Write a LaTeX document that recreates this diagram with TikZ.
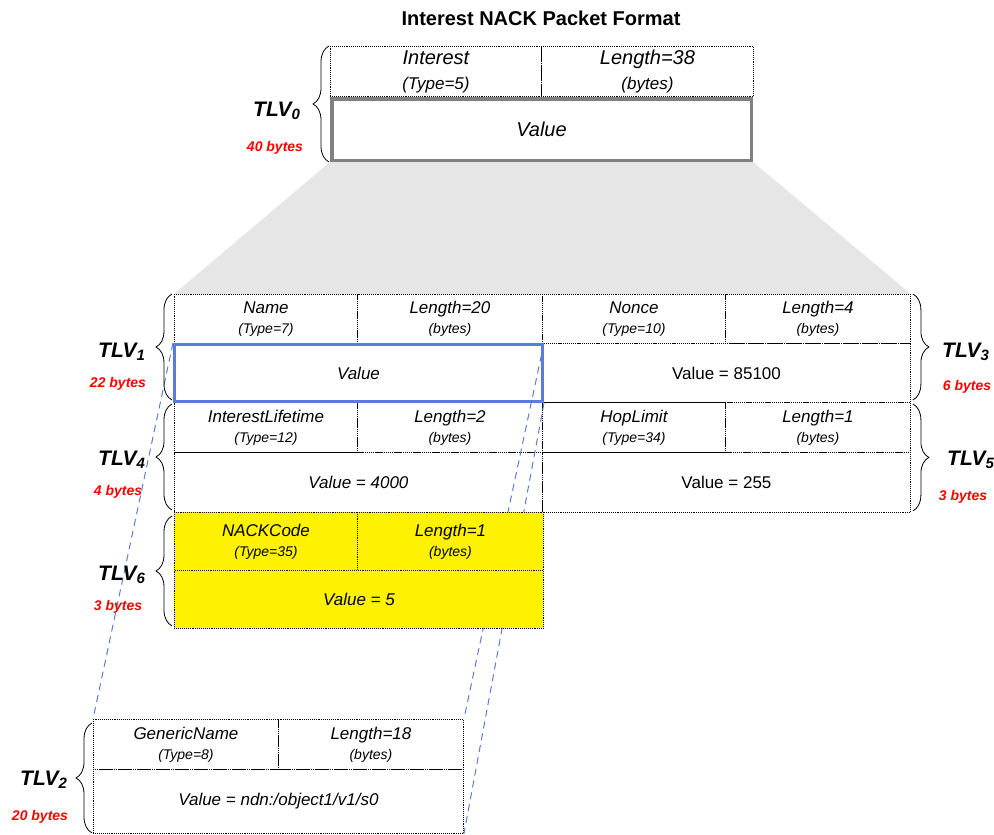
\documentclass[tikz,border=0pt]{standalone}
\usepackage{fontspec}
\setmainfont{Liberation Sans}
\usepackage{xcolor}
\usepackage{tikz}
\usetikzlibrary{positioning, backgrounds, decorations.pathreplacing}

\definecolor{valblue}{RGB}{90,125,218}
\definecolor{zoomgray}{RGB}{230,230,230}
\definecolor{valgray}{RGB}{128,128,128}

\newcommand{\subline}[1]{{\fontsize{14}{16}\selectfont #1}}
\newcommand{\bigsubline}[1]{{\fontsize{17}{19}\selectfont #1}}
\newcommand{\tlvname}[1]{TLV\raisebox{-3.5pt}{\fontsize{15}{16}\selectfont #1}}

\begin{document}
\begin{tikzpicture}[
  x=1pt, y=-1pt,
  cell/.style={draw, densely dotted, line width=0.9pt, anchor=north west,
               inner sep=0pt, align=center, font=\itshape\fontsize{17}{20}\selectfont},
  bigcell/.style={cell, font=\itshape\fontsize{20}{25}\selectfont},
  plaincell/.style={cell, font=\fontsize{17}{20}\selectfont},
  nackcell/.style={cell, fill=yellow},
  tlv/.style={font=\bfseries\itshape\fontsize{21}{24}\selectfont, inner sep=0pt, anchor=base west},
  bytes/.style={font=\bfseries\itshape\fontsize{14}{16}\selectfont, text=red, inner sep=0pt},
  tlvbrace/.style={decorate, decoration={brace, amplitude=16pt}, line width=0.8pt},
  zoomline/.style={valblue, line width=1pt, dash pattern=on 7pt off 5pt}
]
\useasboundingbox (0,0) rectangle (994,835);

\node[font=\bfseries\fontsize{20}{24}\selectfont] (title) at (541,18) {Interest NACK Packet Format};

% TLV0: Interest
\node[bigcell, minimum width=211pt, minimum height=50pt] (interest) at (330,46) {Interest\\\bigsubline{(Type=5)}};
\node[bigcell, minimum width=212pt, minimum height=50pt] (interestlen) at (541,46) {Length=38\\\bigsubline{(bytes)}};
\node[bigcell, draw=valgray, solid, line width=3.5pt, minimum width=419.5pt, minimum height=61.5pt] (interestval) at (330,97) {Value};

% TLV1 / TLV3: Name, Nonce
\node[cell, minimum width=183pt, minimum height=49pt] (name) at (174,294) {Name\\\subline{(Type=7)}};
\node[cell, minimum width=185pt, minimum height=49pt] (namelen) at (357,294) {Length=20\\\subline{(bytes)}};
\node[cell, minimum width=183pt, minimum height=49pt] (nonce) at (542,294) {Nonce\\\subline{(Type=10)}};
\node[cell, minimum width=185pt, minimum height=49pt] (noncelen) at (725,294) {Length=4\\\subline{(bytes)}};
\node[plaincell, minimum width=368pt, minimum height=59pt] (nonceval) at (542,343) {Value = 85100};

% TLV4 / TLV5: InterestLifetime, HopLimit
\node[cell, minimum width=183pt, minimum height=50pt] (lifetime) at (174,402) {InterestLifetime\\\subline{(Type=12)}};
\node[cell, minimum width=185pt, minimum height=50pt] (lifetimelen) at (357,402) {Length=2\\\subline{(bytes)}};
\node[cell, minimum width=183pt, minimum height=50pt] (hoplimit) at (542,402) {HopLimit\\\subline{(Type=34)}};
\node[cell, minimum width=185pt, minimum height=50pt] (hoplimitlen) at (725,402) {Length=1\\\subline{(bytes)}};
\node[cell, minimum width=368pt, minimum height=60pt] (lifetimeval) at (174,452) {Value = 4000};
\node[plaincell, minimum width=368pt, minimum height=60pt] (hoplimitval) at (542,452) {Value = 255};

% Name value (expanded below)
\node[cell, draw=valblue, solid, line width=3pt, minimum width=368pt, minimum height=57pt] (nameval) at (173,343) {Value};

% TLV2: GenericName
\node[cell, minimum width=185pt, minimum height=50pt] (gname) at (93,719) {GenericName\\\subline{(Type=8)}};
\node[cell, minimum width=185pt, minimum height=50pt] (gnamelen) at (278,719) {Length=18\\\subline{(bytes)}};
\node[cell, minimum width=370pt, minimum height=64pt] (gnameval) at (93,769) {Value = ndn:/object1/v1/s0};

% Zoom from Interest value to its fields
\begin{scope}[on background layer]
  \fill[zoomgray] (interestval.south west) -- (interestval.south east)
                  -- (noncelen.north east) -- (name.north west) -- cycle;
\end{scope}

% Zoom from Name value to GenericName
\draw[zoomline] (nameval.north west) -- (gname.north west);
\draw[zoomline] (nameval.north east) -- (gnamelen.north east);
\draw[zoomline] (nameval.south east) -- (gnameval.south east);

% TLV6: NACKCode
\node[nackcell, minimum width=183pt, minimum height=58pt] (nackcode) at (174,512) {NACKCode\\\subline{(Type=35)}};
\node[nackcell, minimum width=186pt, minimum height=58pt] (nackcodelen) at (357,512) {Length=1\\\subline{(bytes)}};
\node[nackcell, minimum width=369pt, minimum height=58pt] (nackcodeval) at (174,570) {Value = 5};

% Braces
\draw[tlvbrace] ([xshift=-1pt]interestval.south west) -- ([xshift=-1pt]interest.north west);
\draw[tlvbrace] ([xshift=-2pt,yshift=2pt]lifetime.north west) -- ([xshift=-2pt]name.north west);
\draw[tlvbrace] ([xshift=-2pt,yshift=2pt]nackcode.north west) -- ([xshift=-2pt,yshift=-2pt]lifetime.north west);
\draw[tlvbrace] ([xshift=-2pt,yshift=3pt]nackcodeval.south west) -- ([xshift=-2pt,yshift=-4pt]nackcode.north west);
\draw[tlvbrace] ([xshift=2pt]noncelen.north east) -- ([xshift=2pt,yshift=2pt]hoplimitlen.north east);
\draw[tlvbrace] ([xshift=2pt,yshift=-2pt]hoplimitlen.north east) -- ([xshift=2pt,yshift=2pt]hoplimitval.south east);
\draw[tlvbrace] ([xshift=-1pt,yshift=1pt]gnameval.south west) -- ([xshift=-1pt,yshift=-4pt]gname.north west);

% Labels
\node[tlv] (tlv0) at (253,116) {\tlvname{0}};
\node[bytes] (tlv0bytes) at (275,148) {40 bytes};
\node[tlv] (tlv1) at (98,357) {\tlvname{1}};
\node[bytes] (tlv1bytes) at (118,384) {22 bytes};
\node[tlv] (tlv4) at (98,465) {\tlvname{4}};
\node[bytes] (tlv4bytes) at (118,492) {4 bytes};
\node[tlv] (tlv6) at (98,580) {\tlvname{6}};
\node[bytes] (tlv6bytes) at (118,607) {3 bytes};
\node[tlv] (tlv3) at (942,357) {\tlvname{3}};
\node[bytes] (tlv3bytes) at (967,387) {6 bytes};
\node[tlv] (tlv5) at (947,465) {\tlvname{5}};
\node[bytes] (tlv5bytes) at (963,497) {3 bytes};
\node[tlv] (tlv2) at (20,785) {\tlvname{2}};
\node[bytes] (tlv2bytes) at (40,817) {20 bytes};

\end{tikzpicture}
\end{document}
